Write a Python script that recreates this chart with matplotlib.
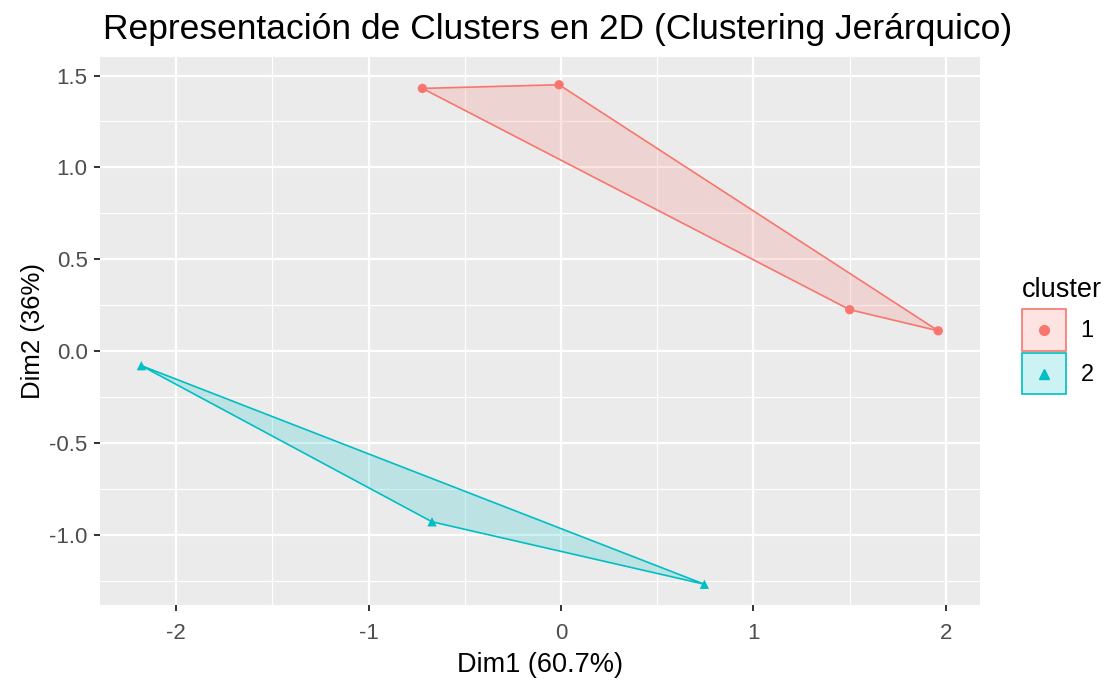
import matplotlib
matplotlib.use("Agg")
import matplotlib.pyplot as plt
from matplotlib.patches import Patch
from matplotlib.lines import Line2D
from matplotlib.legend_handler import HandlerTuple, HandlerBase

plt.rcParams['font.family'] = ['Liberation Sans', 'DejaVu Sans']

# Data
c1_x = [-0.72, -0.01, 1.50, 1.96]
c1_y = [1.43, 1.45, 0.225, 0.11]
c2_x = [-2.18, -0.67, 0.745]
c2_y = [-0.08, -0.93, -1.27]
# convex hull order (indices)
c1_hull = [0, 1, 3, 2]
c2_hull = [0, 1, 2]
cluster_labels = ['1', '2']
x_ticks = [-2, -1, 0, 1, 2]
x_ticklabels = ['-2', '-1', '0', '1', '2']
y_ticks = [-1.0, -0.5, 0.0, 0.5, 1.0, 1.5]
y_ticklabels = ['-1.0', '-0.5', '0.0', '0.5', '1.0', '1.5']

col1 = '#F8766D'
col2 = '#00BFC4'


class CenterMarkerHandler(HandlerBase):
    def create_artists(self, legend, orig_handle, xdescent, ydescent, width, height, fontsize, trans):
        ln = Line2D([-xdescent + width / 2], [-ydescent + height / 2],
                    marker=orig_handle.get_marker(), color=orig_handle.get_color(),
                    ls='none', markersize=orig_handle.get_markersize())
        ln.set_transform(trans)
        return [ln]


fig = plt.figure(figsize=(11.13, 6.84), dpi=100)
ax = fig.add_axes([100/1113, 1-605/684, 880/1113, 548/684])
ax.set_facecolor('#EBEBEB')

for xs, ys, hull, col, mk in [(c1_x, c1_y, c1_hull, col1, 'o'), (c2_x, c2_y, c2_hull, col2, '^')]:
    hx = [xs[i] for i in hull]
    hy = [ys[i] for i in hull]
    ax.fill(hx, hy, facecolor=col, alpha=0.2, edgecolor='none', zorder=2)
    ax.plot(hx + [hx[0]], hy + [hy[0]], color=col, lw=1.2, zorder=3)
    ax.scatter(xs, ys, color=col, marker=mk, s=45, zorder=4, edgecolors='none')

ax.set_xlim(-2.395, 2.177)
ax.set_ylim(-1.383, 1.601)
ax.set_xticks(x_ticks)
ax.set_xticklabels(x_ticklabels)
ax.set_yticks(y_ticks)
ax.set_yticklabels(y_ticklabels)
ax.set_xticks([-1.5, -0.5, 0.5, 1.5], minor=True)
ax.set_yticks([-1.25, -0.75, -0.25, 0.25, 0.75, 1.25], minor=True)
ax.grid(which='major', color='white', lw=1.6, zorder=0)
ax.grid(which='minor', color='white', lw=0.8, zorder=0)
ax.set_axisbelow(True)
for s in ax.spines.values():
    s.set_visible(False)
ax.tick_params(which='major', length=4, width=1.4, color='#333333', labelsize=16, labelcolor='#4D4D4D')
ax.tick_params(axis='x', which='major', pad=9)
ax.tick_params(axis='y', which='major', pad=5)
ax.tick_params(which='minor', length=0)

ax.set_xlabel('Dim1 (60.7%)', fontsize=19.5, color='black', labelpad=6)
ax.set_ylabel('Dim2 (36%)', fontsize=18.5, color='black', labelpad=3)
fig.text(103/1113, 1-39/684, 'Representación de Clusters en 2D (Clustering Jerárquico)',
         fontsize=25.5, ha='left', va='baseline')

handles = [
    (Patch(facecolor=col1, alpha=0.2, edgecolor='none'), Patch(facecolor='none', edgecolor=col1, lw=1.2),
     Line2D([], [], marker='o', color=col1, ls='none', markersize=7)),
    (Patch(facecolor=col2, alpha=0.2, edgecolor='none'), Patch(facecolor='none', edgecolor=col2, lw=1.2),
     Line2D([], [], marker='^', color=col2, ls='none', markersize=7)),
]
leg = fig.legend(handles, cluster_labels, title='cluster', loc='upper left',
                 bbox_to_anchor=(1005/1113, 1-260/684), frameon=False,
                 handler_map={tuple: HandlerTuple(ndivide=1, pad=0), Line2D: CenterMarkerHandler()},
                 handlelength=1.9, handleheight=2.3, fontsize=17, title_fontsize=19.5,
                 labelspacing=0.12, handletextpad=0.6, alignment='left', borderpad=0.2)
leg._legend_box.sep = 5

fig.savefig('out.png', dpi=100)
